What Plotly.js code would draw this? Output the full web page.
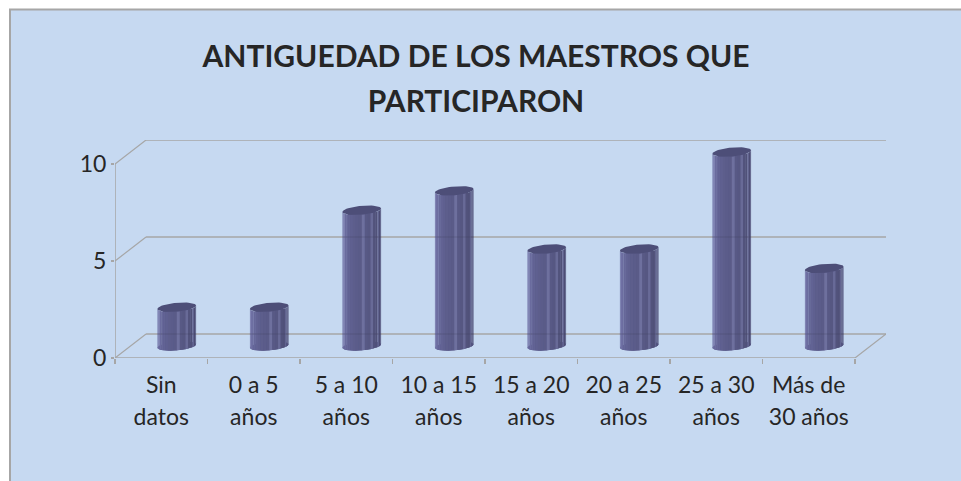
<!DOCTYPE html>
<html><head><meta charset="utf-8">
<script src="https://cdn.plot.ly/plotly-3.0.1.min.js"></script>
<style>html,body{margin:0;padding:0;background:#fff;overflow:hidden}</style>
</head><body><div id="chart" style="width:961px;height:481px"></div>
<script>
const titleLines = ["ANTIGUEDAD DE LOS MAESTROS QUE", "PARTICIPARON"];
const categories = ["Sin<br>datos","0 a 5<br>años","5 a 10<br>años","10 a 15<br>años","15 a 20<br>años","20 a 25<br>años","25 a 30<br>años","Más de<br>30 años"];
const values = [2,2,7,8,5,5,10,4];
const valueTicks = [0,5,10];
const stripColors = ["#66679a","#7576aa","#6f70a4","#6a6b9e","#666799","#626394","#5f6090","#5d5e8c","#5b5c8a","#5a5b88","#6e709e","#585985","#565782","#686a97","#52537c","#505179","#626490","#4c4d74","#585a84","#47486d"];
const topColor = "#4d4e78", gridColor = "#a6a6a6", textColor = "#262626", wallColor = "#c6d9f1";

// Plot box in pixels: the front-left corner of the floor is the origin of the axes.
const W=961,H=481, L=115, R=886, T=140, B=358;
const pxX=92.4, pxY=19.4;               // pixels per category and per value unit
const depthX=31/pxX, depthY=24/pxY;     // floor depth, in axis units
const xMin=-0.5, xMax=xMin+8+depthX, yMax=10+depthY;
const aPx=19.3, bPx=4.4, kPx=1.7;       // cylinder ellipse in pixels
const a=aPx/pxX;

const px = (c,v,t)=>[c+depthX/2+a*Math.cos(t), v+depthY/2-(bPx*Math.sin(t)-kPx*Math.cos(t))/pxY];

const traces=[];
// solid core of each column, from the values
traces.push({type:'bar',x:categories.map((_,i)=>i+depthX/2),y:values,base:values.map(()=>depthY/2-0.05),
  width:0.3,marker:{color:"#585986",line:{width:0}},hoverinfo:'skip',showlegend:false});
// bottom ellipse
(function(){const X=[],Y=[];values.forEach((v,i)=>{for(let s=0;s<=40;s++){const p=px(i,0,Math.PI*2*s/40);X.push(p[0]);Y.push(p[1]);}X.push(null);Y.push(null);});
 traces.push({type:'scatter',mode:'lines',x:X,y:Y,fill:'toself',fillcolor:"#55568a",line:{width:0},hoverinfo:'skip',showlegend:false});})();
// front surface strips
stripColors.forEach((col,n)=>{
  const t0=Math.PI*(1-n/stripColors.length), t1=Math.PI*(1-(n+1)/stripColors.length)-0.01;
  const X=[],Y=[];
  values.forEach((v,i)=>{
    const pts=[px(i,v,t0),px(i,v,t1),px(i,0,t1),px(i,0,t0),px(i,v,t0)];
    pts.forEach(p=>{X.push(p[0]);Y.push(p[1]);});X.push(null);Y.push(null);
  });
  traces.push({type:'scatter',mode:'lines',x:X,y:Y,fill:'toself',fillcolor:col,line:{width:0},hoverinfo:'skip',showlegend:false});
});
// back-wall gridlines faintly showing through the columns
(function(){const X=[],Y=[];valueTicks.forEach(t=>{values.forEach((v,i)=>{
  if(v+depthY/2>t+depthY){X.push(i+depthX/2-a,i+depthX/2+a,null);Y.push(t+depthY,t+depthY,null);}});});
 traces.push({type:'scatter',mode:'lines',x:X,y:Y,line:{width:1.2,color:"rgba(60,60,90,0.3)"},hoverinfo:'skip',showlegend:false});})();
// top ellipse
(function(){const X=[],Y=[];values.forEach((v,i)=>{for(let s=0;s<=48;s++){const p=px(i,v,Math.PI*2*s/48);X.push(p[0]);Y.push(p[1]);}X.push(null);Y.push(null);});
 traces.push({type:'scatter',mode:'lines',x:X,y:Y,fill:'toself',fillcolor:topColor,line:{width:0},hoverinfo:'skip',showlegend:false});})();

const ln=(x0,y0,x1,y1,w,c)=>({type:'line',xref:'x',yref:'y',x0,y0,x1,y1,layer:'below',line:{color:c||gridColor,width:w||1.5}});
const shapes=[];
const fx=p=>(p-L)/(R-L), fy=p=>(B-p)/(B-T);
shapes.push({type:'rect',xref:'paper',yref:'paper',x0:fx(10),x1:fx(W+20),y0:fy(H+20),y1:fy(9.5),layer:'below',fillcolor:wallColor,line:{color:gridColor,width:2}});
valueTicks.forEach(v=>{
  shapes.push(ln(xMin+depthX,v+depthY,xMax,v+depthY));
  shapes.push(ln(xMin,v,xMin+depthX,v+depthY,1.2));
});
shapes.push(ln(xMin,0,xMin,10));
shapes.push(ln(xMin,0,xMin+8,0));
shapes.push(ln(xMin+8,0,xMax,depthY,1.2));

const layout={
  width:W,height:H,margin:{l:L,r:W-R,t:T,b:H-B,pad:0},
  paper_bgcolor:'#ffffff',plot_bgcolor:'rgba(0,0,0,0)',showlegend:false,barmode:'overlay',
  font:{family:'Lato, sans-serif',color:textColor},
  title:{text:'<span style="font-size:30px">'+titleLines[0]+'</span><br><span style="font-size:30px">'+titleLines[1]+'</span>',
    font:{family:'Lato, sans-serif',size:34.6,color:textColor,weight:700},
    x:476/W,xanchor:'center',xref:'container',yref:'container',y:1-67/H,yanchor:'top'},
  xaxis:{range:[xMin,xMax],tickmode:'array',tickvals:categories.map((_,i)=>i),
    ticktext:categories.map(c=>'<span style="font-size:23px">'+c.split('<br>').join('</span><br><span style="font-size:23px">')+'</span>'),
    ticks:'',showgrid:false,zeroline:false,showline:false,tickangle:0,ticklabelstandoff:9,
    tickfont:{family:'Lato, sans-serif',size:24.6,color:textColor},
    minor:{tickmode:'array',tickvals:Array.from({length:9},(_,i)=>xMin+i),ticks:'outside',ticklen:5,tickwidth:1.2,tickcolor:gridColor,showgrid:false}},
  yaxis:{range:[0,yMax],tickmode:'array',tickvals:valueTicks,ticks:'outside',ticklen:3,tickwidth:1.2,tickcolor:gridColor,
    showgrid:false,zeroline:false,showline:false,tickfont:{family:'Lato, sans-serif',size:23,color:textColor}},
  shapes
};
Plotly.newPlot('chart',traces,layout,{displayModeBar:false,staticPlot:true});
</script></body></html>
